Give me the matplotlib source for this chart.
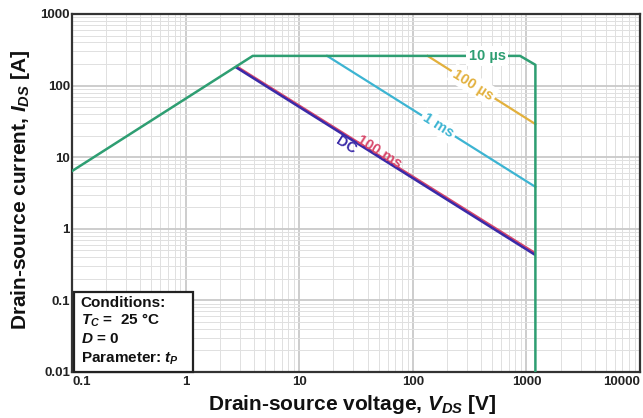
import numpy as np
import matplotlib
matplotlib.use("Agg")
import matplotlib.pyplot as plt
from matplotlib.patches import Rectangle
from matplotlib.ticker import LogLocator, NullFormatter

plt.rcParams['font.family'] = ['Liberation Sans', 'DejaVu Sans']
plt.rcParams['font.weight'] = 'bold'
plt.rcParams['mathtext.fontset'] = 'custom'
plt.rcParams['mathtext.rm'] = 'Liberation Sans:bold'
plt.rcParams['mathtext.it'] = 'Liberation Sans:italic:bold'
plt.rcParams['mathtext.bf'] = 'Liberation Sans:bold'

# === SOA limit curves: drain-source voltage [V] vs current [A] ===
v_10us = [0.1, 3.9, 880, 1200, 1200]
i_10us = [6.4, 260, 260, 195, 0.01]
v_100us = [135, 1200]
i_100us = [260, 29]
v_1ms = [17.6, 1200]
i_1ms = [260, 3.85]
v_100ms = [2.78, 1200]
i_100ms = [187, 0.455]
v_dc = [2.75, 1200]
i_dc = [182, 0.43]

x_ticks = [0.1, 1, 10, 100, 1000, 10000]
x_ticklabels = ["0.1", "1", "10", "100", "1000", "10000"]
y_ticks = [0.01, 0.1, 1, 10, 100, 1000]
y_ticklabels = ["0.01", "0.1", "1", "10", "100", "1000"]

c_green = "#2e9e72"
c_orange = "#e2b03c"
c_cyan = "#3cb4d2"
c_red = "#d8486a"
c_dc = "#3a2aa8"

fig = plt.figure(figsize=(6.43, 4.18), dpi=100)
ax = fig.add_axes([72 / 643, 1 - 372 / 418, 568 / 643, 358 / 418])
ax.set_xscale("log")
ax.set_yscale("log")
ax.set_xlim(0.1, 10000)
ax.set_ylim(0.01, 1000)

ax.xaxis.set_minor_locator(LogLocator(base=10, subs=np.arange(2, 10)))
ax.yaxis.set_minor_locator(LogLocator(base=10, subs=np.arange(2, 10)))
ax.xaxis.set_minor_formatter(NullFormatter())
ax.yaxis.set_minor_formatter(NullFormatter())
ax.grid(which="major", color="#c9c9c9", lw=1.3, zorder=0)
ax.grid(which="minor", color="#e0e0e0", lw=0.7, zorder=0)
ax.set_axisbelow(True)

ax.set_xticks(x_ticks, x_ticklabels)
ax.set_yticks(y_ticks, y_ticklabels)
ax.tick_params(which="both", length=0)
ax.tick_params(axis="x", pad=3, labelsize=9.5, labelcolor="#222222")
ax.tick_params(axis="y", pad=1.5, labelsize=9.5, labelcolor="#222222")
xt = ax.get_xticklabels()
xt[0].set_ha("left")
xt[-1].set_ha("right")

for s in ax.spines.values():
    s.set_color("#333333")
    s.set_linewidth(1.6)

ax.plot(v_100ms, i_100ms, color=c_red, lw=1.8, zorder=3, solid_capstyle="butt")
ax.plot(v_dc, i_dc, color=c_dc, lw=1.8, zorder=3, solid_capstyle="butt")
ax.plot(v_1ms, i_1ms, color=c_cyan, lw=1.6, zorder=3)
ax.plot(v_100us, i_100us, color=c_orange, lw=1.6, zorder=3)
ax.plot(v_10us, i_10us, color=c_green, lw=1.8, zorder=4)

# --- labels on the curves ---
def on_curve(vs, cs, v):
    return 10 ** np.interp(np.log10(v), np.log10(vs), np.log10(cs))

def slope_angle(vs, cs):
    p1 = ax.transData.transform((vs[0], cs[0]))
    p2 = ax.transData.transform((vs[1], cs[1]))
    return np.degrees(np.arctan2(p2[1] - p1[1], p2[0] - p1[0]))

white = dict(facecolor="white", edgecolor="none", pad=2.0)

ax.text(450, on_curve(v_10us[1:3], i_10us[1:3], 450), "10 µs", color=c_green,
        fontsize=10.5, ha="center", va="center", bbox=white, zorder=5)

ang = slope_angle(v_100us, i_100us)
ax.text(340, on_curve(v_100us, i_100us, 340), "100 µs", color=c_orange,
        fontsize=10.5, ha="center", va="center", rotation=ang,
        rotation_mode="anchor", bbox=white, zorder=5)

ang = slope_angle(v_1ms, i_1ms)
ax.text(168, on_curve(v_1ms, i_1ms, 168), "1 ms", color=c_cyan,
        fontsize=10.5, ha="center", va="center", rotation=ang,
        rotation_mode="anchor", bbox=white, zorder=5)

ang = slope_angle(v_100ms, i_100ms)
nx, ny = -np.sin(np.radians(ang)), np.cos(np.radians(ang))
ax.annotate("100 ms", (49, on_curve(v_100ms, i_100ms, 49)),
            xytext=(2.5 * nx, 2.5 * ny), textcoords="offset points",
            color=c_red, fontsize=10.5, ha="center", va="center",
            rotation=ang, rotation_mode="anchor", zorder=5)
ax.annotate("DC", (28, on_curve(v_dc, i_dc, 28)),
            xytext=(-5.5 * nx, -5.5 * ny), textcoords="offset points",
            color=c_dc, fontsize=10.5, ha="center", va="center",
            rotation=ang, rotation_mode="anchor", zorder=5)

# --- conditions box ---
ax.add_patch(Rectangle((0.004, 0.0), 0.209, 0.2235, transform=ax.transAxes,
                       facecolor="white", edgecolor="#222222", lw=1.6,
                       zorder=6, clip_on=False))
cond_lines = ["Conditions:", r"$T_C$ =  25 °C", r"$D$ = 0", r"Parameter: $t_P$"]
cond_y = [0.193, 0.145, 0.092, 0.038]
for txt, yy in zip(cond_lines, cond_y):
    ax.text(0.015, yy, txt, transform=ax.transAxes, fontsize=11,
            color="#111111", ha="left", va="center", zorder=7)

ax.set_xlabel(r"Drain-source voltage, $V_{DS}$ [V]", fontsize=15,
              fontweight="bold", color="#111111")
ax.set_ylabel(r"Drain-source current, $I_{DS}$ [A]", fontsize=15,
              fontweight="bold", color="#111111")
ax.xaxis.set_label_coords(0.494, -0.058)
ax.yaxis.set_label_coords(-0.07, 0.51)

fig.savefig("out.png", dpi=100)
